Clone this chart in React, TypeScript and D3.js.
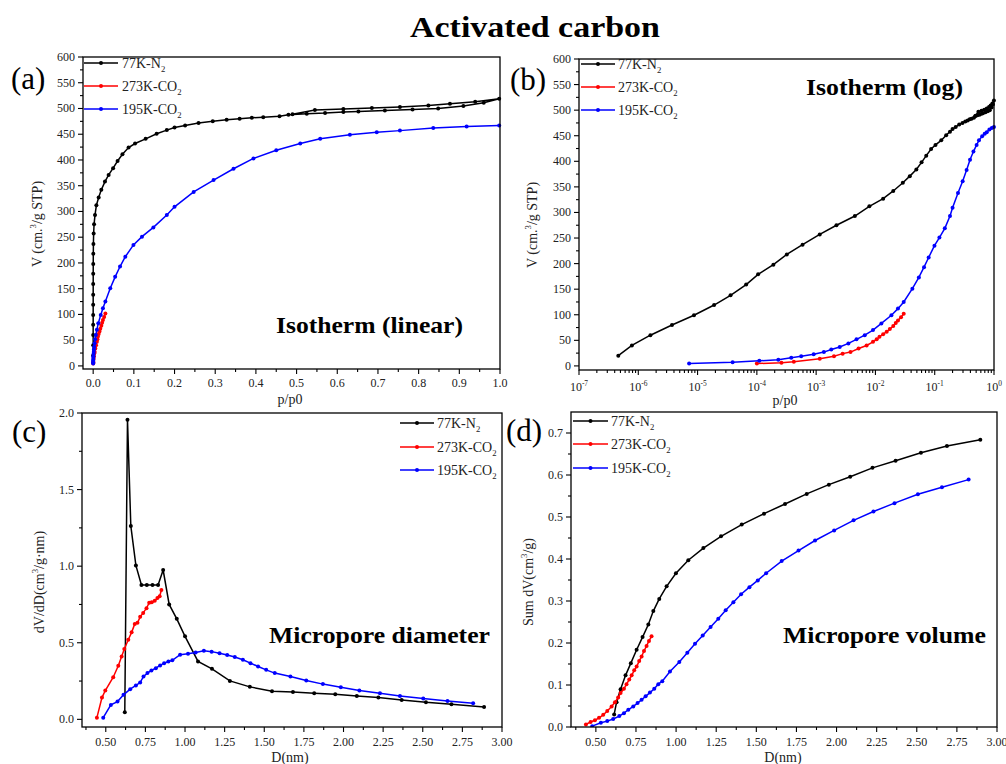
import React, { useEffect, useRef } from "react";
import * as d3 from "d3";

const FONT = "'Liberation Serif', 'Times New Roman', serif";
const COLORS = ["#000000", "#ff0000", "#0000ff"];
const LEGEND = ["77K-N", "273K-CO", "195K-CO"];

// isotherms: relative pressure p/p0 and uptake V (cm3/g STP)
const n2P = [4.6e-7, 7.8e-7, 1.6e-6, 3.7e-6, 8.7e-6, 1.9e-5, 3.6e-5, 6.6e-5, 1.05e-4, 1.9e-4, 3.2e-4, 5.9e-4, 1.15e-3, 2.2e-3, 4.5e-3, 7.9e-3, 0.0135, 0.02, 0.029, 0.038, 0.049, 0.06, 0.072, 0.087, 0.103, 0.129, 0.156, 0.181, 0.2, 0.226, 0.259, 0.294, 0.328, 0.36, 0.39, 0.418, 0.458, 0.48, 0.525, 0.57, 0.615, 0.652, 0.717, 0.785, 0.848, 0.91, 0.96, 0.998, 0.939, 0.877, 0.824, 0.754, 0.685, 0.615, 0.545, 0.49];
const n2V = [20, 40, 60, 80, 99, 119, 138, 159, 179, 198, 218, 237, 257, 275, 293, 312, 327, 342, 358, 371, 384, 398, 411, 424, 432, 441, 451, 458, 463, 467, 472, 475, 478, 480, 482, 483, 485, 488, 490, 491, 493, 494, 496, 498, 500, 505, 511, 519, 513, 509, 506, 503, 501, 499, 497, 489];

const co2_273P = [1.0e-4, 2.6e-4, 4.2e-4, 1.15e-3, 2.0e-3, 2.8e-3, 3.8e-3, 5.2e-3, 7.1e-3, 9.1e-3, 0.0105, 0.0117, 0.0135, 0.0155, 0.0175, 0.02, 0.022, 0.024, 0.027, 0.03];
const co2_273V = [4.6, 6, 8, 14, 19, 24, 27, 34, 40, 47, 52, 57, 62, 67, 72, 78, 84, 89, 95, 102];

const co2_195P = [7.2e-6, 3.9e-5, 1.1e-4, 2.3e-4, 3.8e-4, 5.6e-4, 9.1e-4, 1.35e-3, 1.8e-3, 2.5e-3, 3.5e-3, 4.8e-3, 6.6e-3, 9.1e-3, 0.0126, 0.0186, 0.024, 0.03, 0.042, 0.054, 0.066, 0.079, 0.099, 0.12, 0.148, 0.181, 0.2, 0.247, 0.296, 0.345, 0.394, 0.45, 0.509, 0.558, 0.631, 0.697, 0.754, 0.836, 0.918, 0.998];
const co2_195V = [4.6, 7, 10, 12, 16, 19, 23, 27, 32, 37, 44, 52, 60, 70, 83, 99, 112, 125, 151, 173, 193, 212, 235, 251, 269, 293, 309, 338, 361, 383, 403, 419, 432, 441, 449, 454, 457, 462, 465, 467];

// pore size distribution dV/dD vs D (nm)
const psdN2D = [0.62, 0.637, 0.658, 0.69, 0.725, 0.759, 0.795, 0.83, 0.862, 0.9, 0.948, 1.0, 1.082, 1.17, 1.283, 1.409, 1.549, 1.681, 1.815, 1.948, 2.084, 2.22, 2.367, 2.52, 2.681, 2.887];
const psdN2 = [0.046, 1.956, 1.263, 1.005, 0.877, 0.877, 0.877, 0.877, 0.975, 0.75, 0.656, 0.542, 0.378, 0.33, 0.251, 0.212, 0.184, 0.179, 0.17, 0.164, 0.153, 0.142, 0.127, 0.111, 0.098, 0.081];
const psd273D = [0.444, 0.476, 0.497, 0.547, 0.579, 0.6, 0.617, 0.642, 0.663, 0.683, 0.7, 0.717, 0.736, 0.757, 0.774, 0.79, 0.809, 0.826, 0.84, 0.851];
const psd273 = [0.011, 0.142, 0.188, 0.275, 0.35, 0.41, 0.459, 0.52, 0.568, 0.623, 0.63, 0.669, 0.695, 0.726, 0.761, 0.765, 0.774, 0.793, 0.804, 0.844];
const psd195D = [0.484, 0.532, 0.574, 0.612, 0.654, 0.69, 0.717, 0.738, 0.763, 0.788, 0.816, 0.843, 0.868, 0.895, 0.92, 0.969, 1.019, 1.067, 1.119, 1.168, 1.218, 1.266, 1.314, 1.365, 1.413, 1.461, 1.512, 1.566, 1.665, 1.765, 1.87, 1.983, 2.1, 2.23, 2.356, 2.503, 2.656, 2.818];
const psd195 = [0.011, 0.094, 0.116, 0.16, 0.197, 0.221, 0.24, 0.28, 0.302, 0.319, 0.334, 0.352, 0.367, 0.378, 0.385, 0.422, 0.428, 0.437, 0.448, 0.442, 0.431, 0.42, 0.407, 0.389, 0.367, 0.345, 0.323, 0.302, 0.28, 0.254, 0.23, 0.21, 0.188, 0.17, 0.153, 0.136, 0.12, 0.105];

// cumulative pore volume vs D (nm)
const cumN2D = [0.614, 0.629, 0.654, 0.685, 0.718, 0.754, 0.791, 0.827, 0.858, 0.895, 0.941, 0.999, 1.076, 1.17, 1.28, 1.409, 1.548, 1.679, 1.814, 1.952, 2.085, 2.224, 2.368, 2.526, 2.688, 2.896];
const cumN2 = [0.03, 0.059, 0.09, 0.123, 0.152, 0.184, 0.214, 0.244, 0.276, 0.305, 0.335, 0.366, 0.397, 0.426, 0.454, 0.482, 0.508, 0.531, 0.555, 0.577, 0.596, 0.617, 0.634, 0.653, 0.669, 0.684];
const cum273D = [0.438, 0.467, 0.494, 0.52, 0.546, 0.571, 0.598, 0.619, 0.639, 0.654, 0.675, 0.691, 0.708, 0.723, 0.739, 0.754, 0.77, 0.785, 0.8, 0.816, 0.831, 0.847];
const cum273 = [0.006, 0.012, 0.016, 0.022, 0.029, 0.038, 0.049, 0.059, 0.07, 0.081, 0.091, 0.102, 0.113, 0.123, 0.135, 0.144, 0.157, 0.168, 0.181, 0.193, 0.205, 0.216];
const cum195D = [0.477, 0.531, 0.571, 0.608, 0.646, 0.675, 0.702, 0.733, 0.76, 0.785, 0.81, 0.837, 0.864, 0.889, 0.914, 0.962, 1.02, 1.07, 1.118, 1.166, 1.215, 1.263, 1.309, 1.357, 1.405, 1.457, 1.509, 1.561, 1.658, 1.763, 1.866, 1.985, 2.106, 2.23, 2.361, 2.507, 2.657, 2.823];
const cum195 = [0.002, 0.01, 0.014, 0.019, 0.026, 0.033, 0.041, 0.049, 0.057, 0.065, 0.073, 0.082, 0.091, 0.102, 0.109, 0.132, 0.155, 0.177, 0.198, 0.218, 0.238, 0.258, 0.278, 0.297, 0.316, 0.333, 0.349, 0.366, 0.395, 0.42, 0.444, 0.468, 0.492, 0.513, 0.533, 0.554, 0.571, 0.589];

const zip = (xs, ys) => xs.map((x, i) => [x, ys[i]]);

// text with super/subscript parts: [text, "n" | "sup" | "sub"]
function rich(sel, parts, size) {
  let shift = 0;
  parts.forEach(([t, k]) => {
    const target = k === "sup" ? -0.42 * size : k === "sub" ? 0.32 * size : 0;
    const ts = sel.append("tspan").text(t).attr("font-size", k === "n" ? size : size * 0.62);
    if (target !== shift) ts.attr("dy", target - shift);
    shift = target;
  });
}

function drawPanel(svg, p) {
  const g = svg.append("g").attr("font-family", FONT);
  const { l, r, t, b } = p.box;

  // minor + major ticks, outside
  const yTick = (vals, len) =>
    vals.forEach((v) =>
      g.append("line").attr("x1", l - len).attr("x2", l).attr("y1", p.y(v)).attr("y2", p.y(v)).attr("stroke", "#000").attr("stroke-width", 1.1)
    );
  const xTick = (vals, len) =>
    vals.forEach((v) =>
      g.append("line").attr("x1", p.x(v)).attr("x2", p.x(v)).attr("y1", b).attr("y2", b + len).attr("stroke", "#000").attr("stroke-width", 1.1)
    );
  yTick(p.yMinor, 3);
  yTick(p.yMajor, 5);
  xTick(p.xMinor, 3);
  xTick(p.xMajor, 5);

  p.yMajor.forEach((v) =>
    g.append("text").attr("x", l - 8).attr("y", p.y(v)).attr("dy", "0.33em").attr("text-anchor", "end").attr("font-size", 12).attr("fill", "#222").text(p.yFmt(v))
  );
  p.xMajor.forEach((v) => {
    const tx = g.append("text").attr("x", p.x(v)).attr("y", b + p.xLabOff).attr("text-anchor", "middle").attr("font-size", 12).attr("fill", "#222");
    if (p.log) rich(tx, [["10", "n"], [String(Math.round(Math.log10(v))), "sup"]], 12);
    else tx.text(p.xFmt(v));
  });

  // data
  const clipId = "clip-" + p.id;
  g.append("clipPath").attr("id", clipId).append("rect").attr("x", l).attr("y", t - 2).attr("width", r - l + 2).attr("height", b - t + 2);
  const plot = g.append("g").attr("clip-path", `url(#${clipId})`);
  const line = d3.line().x((d) => p.x(d[0])).y((d) => p.y(d[1]));
  p.series.forEach((s, i) => {
    plot.append("path").attr("d", line(s)).attr("fill", "none").attr("stroke", COLORS[i]).attr("stroke-width", 1.5);
    plot.selectAll(null).data(s).join("circle").attr("cx", (d) => p.x(d[0])).attr("cy", (d) => p.y(d[1])).attr("r", 2).attr("fill", COLORS[i]);
  });

  // frame
  g.append("rect").attr("x", l).attr("y", t).attr("width", r - l).attr("height", b - t).attr("fill", "none").attr("stroke", "#000").attr("stroke-width", 1.3);

  // legend
  LEGEND.forEach((name, i) => {
    const y = p.legend.ys[i];
    g.append("line").attr("x1", p.legend.x1).attr("x2", p.legend.x2).attr("y1", y).attr("y2", y).attr("stroke", COLORS[i]).attr("stroke-width", 1.5);
    g.append("circle").attr("cx", (p.legend.x1 + p.legend.x2) / 2).attr("cy", y).attr("r", 2).attr("fill", COLORS[i]);
    const tx = g.append("text").attr("x", p.legend.tx).attr("y", y + 5).attr("font-size", 14).attr("fill", "#222");
    rich(tx, [[name, "n"], ["2", "sub"]], 14);
  });

  // axis titles
  g.append("text").attr("x", p.xlabel.x).attr("y", p.xlabel.y).attr("text-anchor", "middle").attr("font-size", 14).attr("fill", "#222").text(p.xlabel.text);
  const yl = g.append("text").attr("transform", `translate(${p.ylabel.x},${p.ylabel.y}) rotate(-90)`).attr("text-anchor", "middle").attr("font-size", 14).attr("fill", "#222");
  rich(yl, p.ylabel.parts, 14);

  g.append("text").attr("x", p.letter.x).attr("y", p.letter.y).attr("font-size", 31).text(p.letter.text);
  g.append("text")
    .attr("x", p.note.x)
    .attr("y", p.note.y)
    .attr("font-size", 23)
    .attr("font-weight", "bold")
    .attr("textLength", p.note.w)
    .attr("lengthAdjust", "spacingAndGlyphs")
    .text(p.note.text);
}

const App = () => {
  const ref = useRef(null);

  useEffect(() => {
    const svg = d3.select(ref.current);
    svg.selectAll("*").remove();

    svg
      .append("text")
      .attr("x", 410)
      .attr("y", 37)
      .attr("font-family", FONT)
      .attr("font-weight", "bold")
      .attr("font-size", 29)
      .attr("textLength", 250)
      .attr("lengthAdjust", "spacingAndGlyphs")
      .text("Activated carbon");

    const iso = [zip(n2P, n2V), zip(co2_273P, co2_273V), zip(co2_195P, co2_195V)];
    const vLabel = [["V (cm.", "n"], ["3", "sup"], ["/g STP)", "n"]];

    const decades = d3.range(-7, 1).map((e) => Math.pow(10, e));
    const logMinor = [];
    decades.slice(0, -1).forEach((d) => d3.range(2, 10).forEach((k) => logMinor.push(d * k)));

    const panels = [
      {
        id: "a",
        box: { l: 83, r: 500, t: 57, b: 369 },
        x: d3.scaleLinear().domain([-0.025, 1]).range([83, 500]),
        y: d3.scaleLinear().domain([-6, 600]).range([369, 57]),
        xMajor: d3.range(0, 11).map((i) => i / 10),
        xMinor: d3.range(0, 10).map((i) => i / 10 + 0.05),
        xFmt: d3.format(".1f"),
        xLabOff: 18,
        yMajor: d3.range(0, 601, 50),
        yMinor: d3.range(25, 600, 50),
        yFmt: d3.format("d"),
        series: iso,
        legend: { x1: 84, x2: 118, tx: 122, ys: [63, 86, 109] },
        xlabel: { text: "p/p0", x: 290, y: 404 },
        ylabel: { parts: vLabel, x: 42, y: 224 },
        letter: { text: "(a)", x: 11, y: 89 },
        note: { text: "Isotherm (linear)", x: 276, y: 333, w: 187 },
      },
      {
        id: "b",
        log: true,
        box: { l: 579, r: 994, t: 59, b: 370 },
        x: d3.scaleLog().domain([1e-7, 1]).range([579, 994]),
        y: d3.scaleLinear().domain([-8, 600]).range([370, 59]),
        xMajor: decades,
        xMinor: logMinor,
        xLabOff: 21,
        yMajor: d3.range(0, 601, 50),
        yMinor: d3.range(25, 600, 50),
        yFmt: d3.format("d"),
        series: iso,
        legend: { x1: 581, x2: 615, tx: 618, ys: [64, 87, 110] },
        xlabel: { text: "p/p0", x: 785, y: 405 },
        ylabel: { parts: vLabel, x: 537, y: 225 },
        letter: { text: "(b)", x: 510, y: 90 },
        note: { text: "Isotherm (log)", x: 806, y: 95, w: 157 },
      },
      {
        id: "c",
        box: { l: 82, r: 502, t: 413, b: 727 },
        x: d3.scaleLinear().domain([0.35, 3]).range([82, 502]),
        y: d3.scaleLinear().domain([-0.05, 2]).range([727, 413]),
        xMajor: d3.range(2, 13).map((i) => i / 4),
        xMinor: d3.range(1, 12).map((i) => i / 4 + 0.125),
        xFmt: d3.format(".2f"),
        xLabOff: 19,
        yMajor: d3.range(0, 5).map((i) => i / 2),
        yMinor: d3.range(0, 4).map((i) => i / 2 + 0.25),
        yFmt: d3.format(".1f"),
        series: [zip(psdN2D, psdN2), zip(psd273D, psd273), zip(psd195D, psd195)],
        legend: { x1: 400, x2: 434, tx: 437, ys: [423, 447, 470] },
        xlabel: { text: "D(nm)", x: 290, y: 762 },
        ylabel: { parts: [["dV/dD(cm", "n"], ["3", "sup"], ["/g·nm)", "n"]], x: 44, y: 582 },
        letter: { text: "(c)", x: 12, y: 442 },
        note: { text: "Micropore diameter", x: 269, y: 643, w: 221 },
      },
      {
        id: "d",
        box: { l: 571, r: 997, t: 412, b: 727 },
        x: d3.scaleLinear().domain([0.345, 3]).range([571, 997]),
        y: d3.scaleLinear().domain([0, 0.75]).range([727, 412]),
        xMajor: d3.range(2, 13).map((i) => i / 4),
        xMinor: d3.range(1, 12).map((i) => i / 4 + 0.125),
        xFmt: d3.format(".2f"),
        xLabOff: 19,
        yMajor: d3.range(0, 8).map((i) => i / 10),
        yMinor: d3.range(0, 7).map((i) => i / 10 + 0.05),
        yFmt: d3.format(".1f"),
        series: [zip(cumN2D, cumN2), zip(cum273D, cum273), zip(cum195D, cum195)],
        legend: { x1: 573, x2: 608, tx: 611, ys: [421, 444, 468] },
        xlabel: { text: "D(nm)", x: 783, y: 762 },
        ylabel: { parts: [["Sum dV(cm", "n"], ["3", "sup"], ["/g)", "n"]], x: 533, y: 582 },
        letter: { text: "(d)", x: 506, y: 441 },
        note: { text: "Micropore volume", x: 783, y: 643, w: 203 },
      },
    ];

    panels.forEach((p) => drawPanel(svg, p));
  }, []);

  return (
    <svg
      ref={ref}
      width={1006}
      height={764}
      style={{ position: "absolute", left: 0, top: 0, background: "#fff" }}
    ></svg>
  );
};

export default App;
